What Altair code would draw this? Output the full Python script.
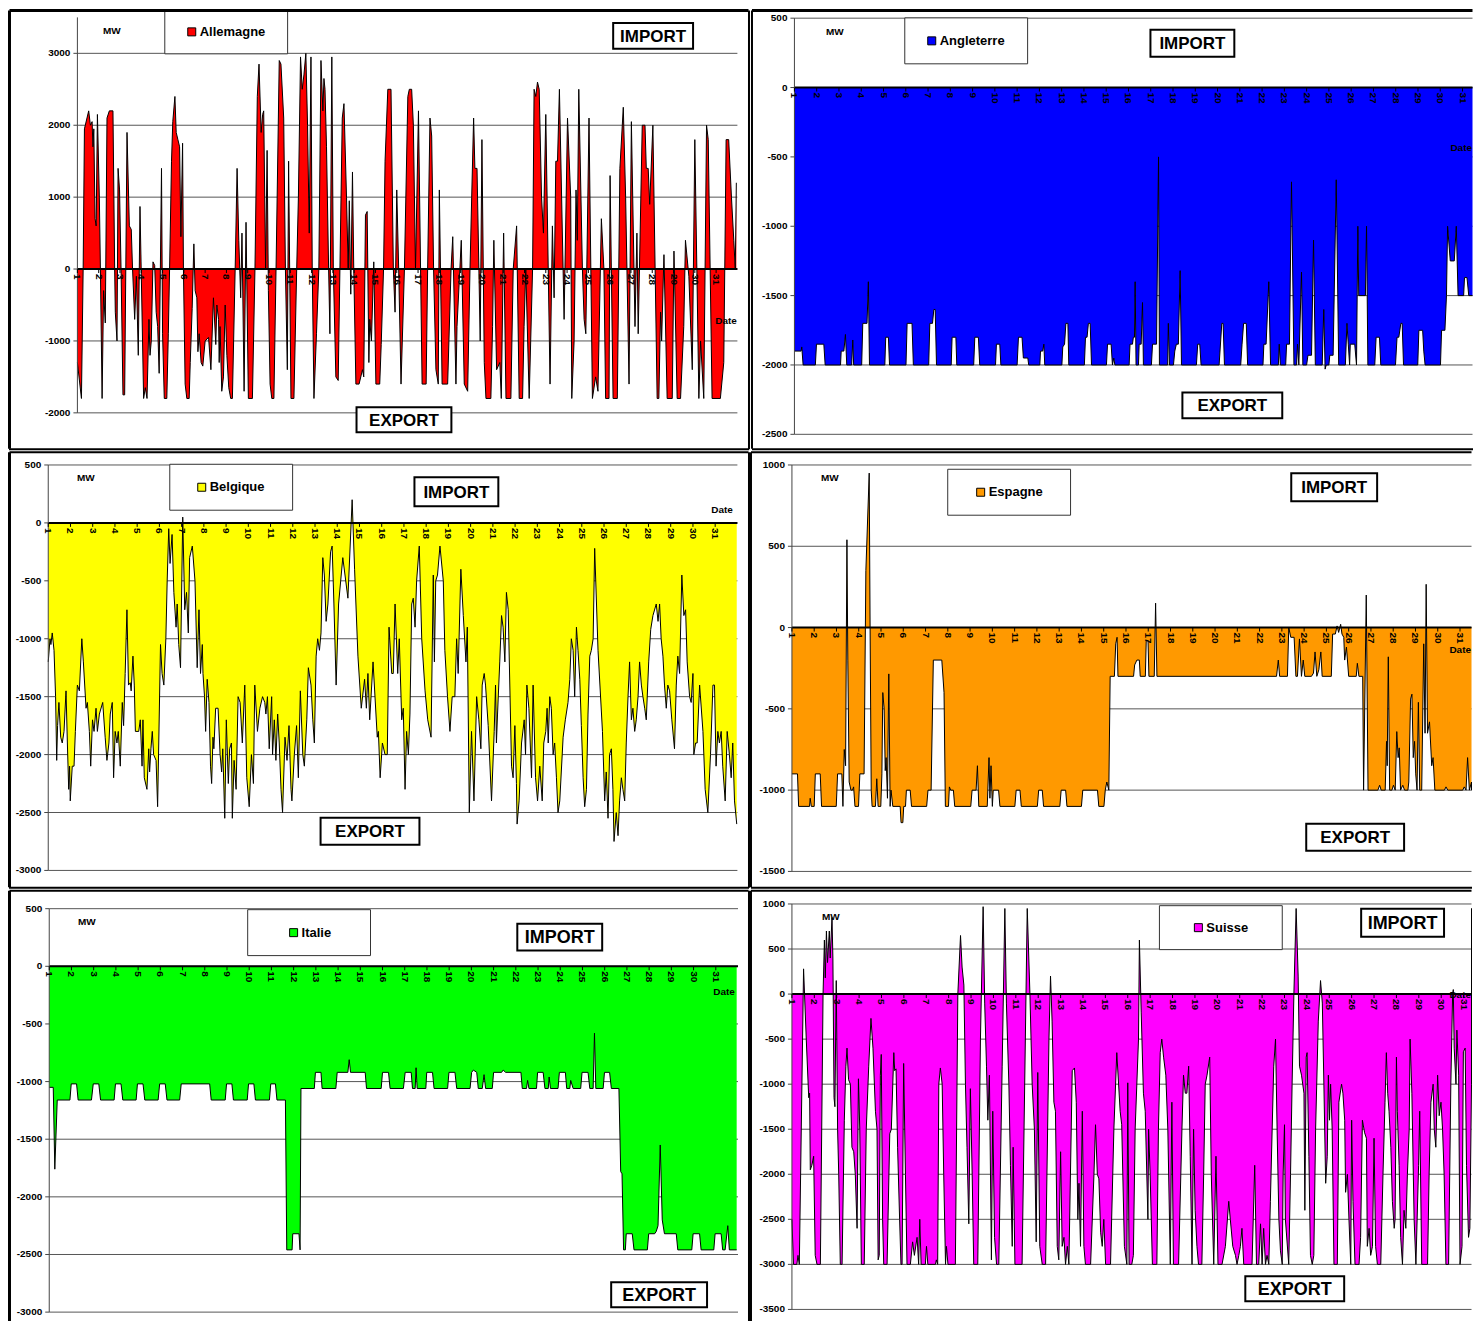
import altair as alt
import pandas as pd

FONT = "Liberation Sans"
DAYS = list(range(1, 32))

# ---------------- data: (day, MW) ----------------
allemagne = [
(1.00,-1300),(1.19,-1800),(1.27,0),(1.33,1950),(1.53,2200),(1.61,2000),(1.69,2050),(1.73,1700),(1.77,1950),(1.83,700),(1.88,600),(1.94,2150),(2.03,1000),(2.08,0),(2.16,-1800),(2.23,-300),(2.31,-750),(2.39,2100),(2.50,2200),(2.67,2200),(2.75,0),(2.78,-600),(2.86,-1000),(2.91,1400),(2.98,1100),(3.05,0),(3.14,-1750),(3.22,-1750),(3.33,1900),(3.44,600),(3.53,550),(3.59,0),(3.69,-700),(3.77,-100),(3.86,-1200),(3.94,870),(4.11,-1800),(4.19,-1650),(4.27,-1800),(4.36,-700),(4.41,-1200),(4.47,-1000),(4.55,100),(4.63,50),(4.70,-600),(4.77,-800),(4.84,-1450),(4.95,1400),(5.00,-900),(5.08,-1800),(5.20,-1800),(5.27,-900),(5.33,0),(5.42,1500),(5.48,2050),(5.58,2400),(5.64,1900),(5.72,1800),(5.80,1700),(5.86,450),(5.94,1750),(5.98,0),(6.06,-1600),(6.14,-1800),(6.25,-1800),(6.30,-1300),(6.39,-550),(6.47,350),(6.53,-300),(6.61,-400),(6.66,-1150),(6.72,-900),(6.81,-1300),(6.89,-1350),(7.00,-1000),(7.16,-950),(7.27,-1400),(7.39,-400),(7.50,-1050),(7.55,-500),(7.63,-700),(7.66,-1300),(7.70,-800),(7.78,-1700),(7.86,-1500),(7.94,-500),(8.02,-1200),(8.11,-1650),(8.20,-1800),(8.28,-1800),(8.41,0),(8.50,1400),(8.58,400),(8.67,-400),(8.73,500),(8.83,-1700),(8.92,650),(9.03,-1800),(9.22,-1800),(9.34,0),(9.45,2400),(9.53,2850),(9.63,1900),(9.70,2150),(9.75,2200),(9.84,0),(9.91,1650),(9.97,-300),(10.05,-1600),(10.13,-1800),(10.23,-1800),(10.33,0),(10.48,2900),(10.56,2850),(10.69,2100),(10.77,0),(10.86,-1400),(10.92,1500),(11.03,-1800),(11.17,-1800),(11.30,0),(11.38,1000),(11.48,2950),(11.56,2500),(11.64,2700),(11.73,3000),(11.81,2000),(11.89,500),(11.97,2950),(12.03,0),(12.11,-1800),(12.23,-900),(12.34,0),(12.44,2900),(12.53,2200),(12.58,2650),(12.63,2500),(12.70,1700),(12.80,0),(12.86,-900),(12.95,2950),(13.02,0),(13.14,-1500),(13.25,-1550),(13.33,0),(13.44,2100),(13.52,2300),(13.64,1000),(13.72,0),(13.77,950),(13.84,-350),(13.92,1350),(13.98,0),(14.08,-1600),(14.23,-1600),(14.39,-1400),(14.45,-1500),(14.53,750),(14.61,800),(14.69,-1300),(14.73,-700),(14.81,-1000),(14.92,100),(15.02,-1600),(15.20,-1600),
(15.27,-1050),(15.38,0),(15.45,1500),(15.58,2500),(15.73,2500),(15.84,0),(15.92,-600),(16.00,1100),(16.09,0),(16.20,-1600),(16.36,0),(16.52,2400),(16.59,2500),(16.70,2500),(16.78,2000),(16.88,0),(17.02,2200),(17.19,-1600),(17.38,-1600),(17.45,0),(17.56,2100),(17.64,1850),(17.73,0),(17.84,-1400),(17.95,-1600),(18.00,1100),(18.13,-1600),(18.39,-1600),(18.55,0),(18.63,450),(18.78,-1600),(18.83,-800),(19.03,400),(19.17,-1600),(19.33,-1700),(19.44,0),(19.52,1000),(19.61,2100),(19.67,1400),(19.77,1400),(19.92,-1000),(20.00,1800),(20.11,-1300),(20.19,-1800),(20.42,-1800),(20.50,-800),(20.56,400),(20.69,-1400),(20.84,-1300),(20.91,-1800),(21.02,500),(21.13,-1800),(21.36,-1800),(21.47,0),(21.63,600),(21.75,-1800),(21.91,-1800),(21.98,-800),(22.06,0),(22.22,-1800),(22.38,0),(22.45,2500),(22.53,2400),(22.61,2600),(22.69,2500),(22.80,1000),(22.89,500),(23.00,2150),(23.20,-1600),(23.31,600),(23.39,-400),(23.47,1500),(23.55,1500),(23.64,2500),(23.86,-700),(24.02,2100),(24.17,1000),(24.22,-1800),(24.33,-1000),(24.42,1100),(24.48,400),(24.55,2500),(24.72,0),(24.80,-700),(24.88,-900),(25.03,2100),(25.19,-1800),(25.34,-1500),(25.45,-1700),(25.61,700),(25.73,0),(25.81,-1800),(25.97,-1800),(26.02,1300),(26.16,-1800),(26.36,-1800),(26.48,1400),(26.64,2250),(26.75,1000),(26.91,-1600),(27.02,2050),(27.19,-800),(27.28,500),(27.34,-900),(27.53,2000),(27.66,2000),(27.72,1400),(27.81,1400),(27.88,900),(28.03,2000),(28.23,-1800),(28.31,-1800),(28.39,-600),(28.44,-1000),(28.55,200),(28.70,-1800),(28.94,-1800),(29.02,250),(29.17,-1800),(29.33,-1800),(29.48,-800),(29.56,400),(29.72,-100),(29.88,-1400),(30.00,1800),(30.19,-1800),(30.27,-1000),(30.42,-1800),(30.55,2000),(30.63,1800),(30.81,-1800),(31.20,-1800),(31.36,-1300),(31.47,1800),(31.59,1800),(31.72,1000),(31.83,400),(31.90,0),(31.95,1200)]

angleterre = [
(1.00,-1900),(1.30,-1900),(1.33,-1870),(1.39,-2000),(1.94,-2000),(1.99,-1850),(2.32,-1850),(2.38,-2000),(3.07,-2000),(3.10,-1900),(3.22,-1900),(3.29,-1780),(3.35,-2000),(3.57,-2000),(3.62,-1820),(3.66,-2000),(4.02,-2000),(4.07,-1700),(4.26,-1700),(4.32,-1400),(4.37,-2000),(5.06,-2000),(5.10,-1800),(5.22,-1800),(5.27,-2000),(6.01,-2000),(6.06,-1700),(6.28,-1700),(6.34,-2000),(7.03,-2000),(7.08,-1700),(7.20,-1700),(7.26,-1600),(7.32,-1600),(7.38,-2000),(8.04,-2000),(8.08,-1800),(8.25,-1800),(8.29,-2000),(9.05,-2000),(9.10,-1800),(9.26,-1800),(9.32,-2000),(10.03,-2000),(10.07,-1850),(10.22,-1850),(10.27,-2000),(11.00,-2000),(11.06,-1800),(11.22,-1800),(11.28,-1950),(11.48,-1950),(11.52,-2000),(12.02,-2000),(12.05,-1900),(12.15,-1900),(12.20,-1850),(12.24,-2000),(13.01,-2000),(13.05,-1870),(13.13,-1850),(13.19,-1700),(13.28,-1700),(13.32,-2000),(14.02,-2000),(14.07,-1800),(14.14,-1800),(14.20,-1700),(14.28,-1700),(14.34,-2000),(15.01,-2000),(15.06,-1850),(15.22,-1850),(15.28,-2000),(15.34,-1950),(15.39,-2000),
(16.03,-2000),(16.07,-1850),(16.18,-1850),(16.22,-1800),(16.27,-1800),(16.30,-1400),(16.34,-2000),(16.45,-2000),(16.48,-1850),(16.57,-1850),(16.63,-1550),(16.67,-2000),(17.03,-2000),(17.08,-1850),(17.26,-1850),(17.35,-500),(17.39,-2000),(17.76,-2000),(17.79,-1700),(17.84,-2000),(18.02,-2000),(18.08,-1900),(18.15,-1850),(18.24,-1850),(18.32,-1320),(18.38,-2000),(19.05,-2000),(19.11,-1850),(19.20,-1850),(19.26,-2000),(20.07,-2000),(20.19,-1700),(20.25,-1700),(20.31,-2000),(21.04,-2000),(21.10,-1850),(21.17,-1700),(21.29,-1700),(21.35,-2000),(22.04,-2000),(22.08,-1850),(22.18,-1850),(22.30,-1400),(22.38,-2000),(22.73,-2000),(22.77,-1850),(22.82,-2000),(23.06,-2000),(23.10,-1850),(23.23,-1850),(23.32,-680),(23.43,-2000),(23.55,-2000),(23.59,-1850),(23.65,-2000),(23.77,-1330),(23.83,-2000),(24.00,-2000),(24.06,-1930),(24.22,-1930),(24.31,-1100),(24.39,-2000),(24.70,-2000),(24.77,-1600),(24.83,-2030),(24.88,-2000),(25.00,-2000),(25.04,-1930),(25.19,-1930),(25.33,-665),(25.44,-2000),(25.74,-2000),(25.81,-1700),(25.87,-1850),(25.93,-2000),(25.96,-1850),(26.16,-1850),(26.24,-2000),(26.30,-1000),(26.34,-1500),(26.64,-1500),(26.69,-1000),(26.75,-2000),(27.06,-2000),(27.12,-1800),(27.27,-1800),(27.33,-2000),(27.99,-2000),(28.06,-1800),(28.14,-1800),(28.23,-1700),(28.29,-1700),(28.35,-2000),(28.99,-2000),(29.04,-1750),(29.21,-1750),(29.26,-1900),(29.32,-2000),(30.01,-2000),(30.06,-1750),(30.21,-1750),(30.28,-1500),(30.33,-1000),(30.45,-1250),(30.63,-1250),(30.72,-1000),(30.80,-1500),(31.05,-1500),(31.09,-1370),(31.20,-1370),(31.28,-1500),(32.00,-1500)]

belgique = [
(1.00,-1200),(1.08,-1000),(1.12,-1050),(1.18,-950),(1.26,-1100),(1.33,-1500),(1.38,-2050),(1.42,-1750),(1.48,-1550),(1.56,-1850),(1.63,-1900),(1.71,-1800),(1.80,-1450),(1.86,-1900),(1.92,-2300),(1.96,-2100),(1.99,-2400),(2.08,-2100),(2.16,-2100),(2.22,-1800),(2.31,-1400),(2.40,-1450),(2.51,-1000),(2.58,-1200),(2.70,-1600),(2.76,-1550),(2.85,-1800),(2.91,-2100),(2.99,-1700),(3.06,-1800),(3.15,-1600),(3.21,-1800),(3.30,-1650),(3.45,-1550),(3.56,-1850),(3.64,-2050),(3.73,-1900),(3.79,-1650),(3.88,-1550),(3.94,-2200),(4.01,-1800),(4.09,-1900),(4.15,-1800),(4.24,-2100),(4.33,-1550),(4.39,-1750),(4.46,-1300),(4.54,-750),(4.61,-1400),(4.69,-1380),(4.73,-1450),(4.81,-1150),(4.87,-1400),(4.92,-1800),(5.07,-1800),(5.14,-1700),(5.22,-2100),(5.26,-1700),(5.32,-2200),(5.44,-2300),(5.52,-1950),(5.56,-2150),(5.62,-1950),(5.68,-1800),(5.74,-2000),(5.85,-2050),(5.92,-2450),(6.05,-1050),(6.12,-1300),(6.20,-1400),(6.29,-1000),(6.35,-500),(6.42,-50),(6.48,-350),(6.57,-100),(6.65,-600),(6.75,-900),(6.80,-700),(6.87,-1050),(6.95,-1250),(7.05,50),(7.14,-750),(7.22,-600),(7.30,-950),(7.36,-300),(7.48,-200),(7.60,-500),(7.70,-1250),(7.78,-750),(7.85,-1300),(7.93,-1050),(7.96,-1300),(8.03,-1500),(8.08,-1800),(8.15,-1350),(8.23,-1550),(8.30,-2100),(8.35,-2250),(8.41,-1850),(8.45,-1950),(8.53,-1600),(8.64,-1600),(8.73,-2000),(8.80,-2150),(8.85,-1950),(8.94,-2550),(9.01,-1700),(9.10,-2250),(9.16,-1950),(9.24,-1900),(9.28,-2550),(9.36,-2050),(9.45,-2300),(9.54,-1500),(9.63,-1550),(9.73,-1900),(9.84,-1400),(9.93,-2200),(10.04,-2450),(10.14,-2000),(10.23,-2250),(10.29,-1400),(10.41,-1800),(10.52,-1600),(10.64,-1500),(10.74,-1550),(10.79,-1650),(10.86,-1500),(10.94,-1950),(11.05,-1500),(11.09,-2000),(11.17,-1700),(11.24,-2050),(11.32,-1650),(11.39,-1900),(11.47,-2300),(11.54,-2500),(11.65,-1850),(11.74,-2050),(11.83,-1750),(11.92,-2300),(11.96,-2400),(12.07,-2000),(12.17,-1750),(12.25,-2200),(12.34,-1450),(12.45,-2000),(12.52,-2100),(12.63,-1700),(12.70,-1250),(12.82,-1400),(12.90,-1700),(12.97,-1900),(13.05,-1150),(13.12,-1000),(13.20,-1100),(13.27,-950),(13.35,-300),(13.42,-450),(13.50,-850),(13.58,-700),(13.70,-250),(13.77,-200),(13.85,-700),(13.95,-1400),(14.06,-700),(14.25,-300),(14.48,-650),(14.67,200),(14.78,-400),(14.93,-1150),(15.08,-1600),(15.23,-1350),(15.31,-1600),(15.38,-1300),(15.46,-1700),(15.61,-1200),(15.80,-1850),
(15.85,-1800),(15.93,-2200),(16.03,-1900),(16.15,-2000),(16.25,-2000),(16.33,-900),(16.45,-1300),(16.52,-1300),(16.60,-700),(16.72,-1300),(16.79,-1000),(16.90,-1700),(16.97,-1600),(17.05,-2300),(17.12,-1800),(17.20,-2000),(17.27,-1650),(17.35,-700),(17.42,-650),(17.50,-900),(17.57,-500),(17.69,-200),(17.80,-1000),(17.95,-1450),(18.07,-1700),(18.22,-1850),(18.32,-450),(18.37,-1200),(18.43,-500),(18.51,-450),(18.62,-200),(18.77,-500),(18.84,-1100),(18.96,-1500),(19.07,-1800),(19.17,-1500),(19.29,-1500),(19.37,-1000),(19.44,-1300),(19.52,-700),(19.56,-400),(19.67,-800),(19.79,-1200),(19.85,-900),(19.94,-2500),(20.04,-1800),(20.15,-2400),(20.27,-1500),(20.37,-1700),(20.46,-1950),(20.52,-1400),(20.61,-1300),(20.67,-1400),(20.79,-1750),(20.94,-2400),(21.06,-1800),(21.12,-1400),(21.16,-1900),(21.21,-1650),(21.31,-1200),(21.39,-800),(21.46,-900),(21.54,-1200),(21.61,-600),(21.69,-750),(21.84,-2100),(21.91,-2200),(21.99,-1750),(22.06,-2250),(22.09,-2600),(22.18,-2400),(22.29,-1900),(22.41,-1700),(22.47,-2000),(22.53,-1400),(22.62,-1600),(22.68,-1900),(22.74,-2200),(22.81,-1400),(22.92,-2200),(23.01,-2400),(23.11,-2100),(23.22,-2400),(23.29,-1900),(23.38,-1800),(23.44,-1600),(23.49,-1900),(23.56,-1500),(23.63,-1600),(23.71,-2000),(23.78,-1900),(23.86,-2200),(23.93,-2500),(24.01,-2400),(24.16,-1850),(24.26,-1700),(24.38,-1550),(24.46,-1350),(24.53,-1000),(24.61,-1100),(24.68,-1500),(24.76,-900),(24.83,-1100),(24.91,-1350),(24.98,-1750),(25.06,-2200),(25.13,-2450),(25.21,-2300),(25.28,-1650),(25.36,-1150),(25.43,-1100),(25.51,-1000),(25.58,-220),(25.73,-1100),(25.93,-1800),(26.03,-2400),(26.10,-2150),(26.18,-2550),(26.25,-2000),(26.33,-1950),(26.40,-2300),(26.45,-2750),(26.55,-2500),(26.63,-2700),(26.70,-2400),(26.78,-2200),(26.85,-2300),(26.93,-2400),(27.00,-1900),(27.08,-1500),(27.15,-1200),(27.23,-1700),(27.30,-1600),(27.38,-1800),(27.45,-1700),(27.53,-1500),(27.60,-1200),(27.68,-1400),(27.75,-1500),(27.83,-1600),(27.90,-1700),(28.01,-1200),(28.10,-920),(28.20,-800),(28.35,-700),(28.43,-850),(28.50,-700),(28.57,-1000),(28.65,-1150),(28.72,-1400),(28.80,-1600),(28.87,-1400),(28.95,-1450),(29.05,-1700),(29.17,-1950),(29.25,-1400),(29.32,-1150),(29.40,-1300),(29.50,-450),(29.59,-800),(29.67,-750),(29.74,-1200),(29.85,-1500),(29.92,-1550),(30.00,-1300),(30.04,-2000),(30.12,-1900),(30.19,-1900),(30.30,-1400),(30.45,-1800),(30.55,-2300),(30.67,-2500),(30.79,-2000),(30.90,-1400),(30.97,-1400),(31.04,-2100),(31.12,-1800),(31.19,-1900),(31.27,-1800),(31.34,-2100),(31.45,-2400),(31.54,-1800),(31.64,-2000),(31.72,-2200),(31.79,-1900),(31.87,-2400),(31.97,-2600)]

espagne = [
(1.00,-900),(1.25,-900),(1.30,-1100),(1.79,-1100),(1.82,-1050),(1.87,-1100),(2.00,-1100),(2.05,-900),(2.27,-900),(2.33,-1100),(2.99,-1100),(3.05,-900),(3.24,-900),(3.29,-1100),(3.35,-750),(3.41,-850),(3.47,540),(3.51,-200),(3.57,-950),(3.65,-1000),(3.72,-1000),(3.77,-980),(3.83,-1100),(3.99,-1100),(4.05,-900),(4.24,-900),(4.32,350),(4.47,950),(4.51,0),(4.56,-1000),(4.60,-1100),(4.75,-1100),(4.81,-930),(4.87,-1100),(4.99,-1100),(5.04,-900),(5.08,-400),(5.14,-500),(5.19,-880),(5.23,-800),(5.29,-1050),(5.35,-285),(5.41,-1100),(5.45,-1000),(5.53,-1100),(5.86,-1100),(5.90,-1200),(5.98,-1200),(6.02,-1100),(6.10,-1100),(6.14,-1000),(6.31,-1000),(6.37,-1100),(7.05,-1100),(7.11,-1000),(7.25,-1000),(7.35,-200),(7.73,-200),(7.83,-400),(7.89,-1100),(8.03,-1100),(8.07,-980),(8.13,-1000),(8.25,-1000),(8.31,-1100),(9.03,-1100),(9.09,-1000),(9.27,-1000),(9.33,-850),(9.39,-1100),(9.77,-1100),(9.85,-800),(9.89,-1050),(9.94,-850),(10.00,-1100),(10.04,-1000),(10.28,-1000),(10.34,-1100),(11.01,-1100),(11.07,-1000),(11.24,-1000),(11.30,-1100),(12.02,-1100),(12.08,-1000),(12.24,-1000),(12.30,-1100),(13.03,-1100),(13.09,-1000),(13.29,-1000),(13.35,-1100),(14.00,-1100),(14.06,-1000),(14.72,-1000),(14.78,-1100),(15.01,-1100),(15.07,-1000),(15.14,-950),(15.23,-1000),(15.29,-300),(15.48,-300),(15.54,-100),(15.60,-60),(15.64,-300),(16.34,-300),(16.39,-230),(16.49,-200),(16.60,-200),(16.64,-300),(16.87,-300),(16.91,-80),(16.99,-80),(17.03,-300),(17.27,-300),(17.33,150),(17.39,-300),(22.76,-300),(22.84,-200),(22.90,-300),(23.25,-300),(23.31,0),(23.40,-60),(23.55,-60),(23.63,-300),(23.70,-300),(23.79,-70),(23.88,-300),(23.96,-200),(24.03,-300),(24.33,-300),(24.42,-280),(24.49,-150),(24.57,-300),(24.66,-260),(24.75,-150),(24.81,-300),(25.22,-300),(25.28,-40),(25.40,-40),(25.48,10),(25.55,-30),(25.64,20),(25.70,-40),(25.78,-60),(25.82,-200),(25.90,-120),(26.00,-300),(26.34,-300),(26.39,-220),(26.46,-300),(26.63,-300),(26.67,-1000),(26.79,200),(26.87,-1000),(27.31,-1000),(27.39,-970),(27.46,-1000),(27.64,-1000),(27.70,-700),(27.73,-850),(27.78,-180),(27.84,-1000),(27.94,-1000),(28.01,-970),(28.09,-1000),(28.16,-640),(28.22,-800),(28.27,-740),(28.33,-1000),(28.43,-970),(28.51,-1000),(28.66,-1000),(28.70,-950),(28.78,-440),(28.84,-410),(28.90,-800),(28.96,-700),(29.01,-900),(29.07,-1000),(29.13,-460),(29.19,-1000),(29.28,-1000),(29.37,-100),(29.43,-650),(29.48,266),(29.54,-650),(29.63,-580),(29.73,-850),(29.79,-800),(29.87,-1000),(30.30,-1000),(30.37,-980),(30.45,-1000),(31.12,-1000),(31.19,-980),(31.27,-1000),(31.34,-800),(31.42,-1000),(31.57,-950),(31.64,-1000),(31.79,-950),(31.87,-1000),(31.94,-1000)]

italie = [
(1.00,-1050),(1.18,-1050),(1.25,-1760),(1.36,-1160),(1.93,-1160),(1.99,-1020),(2.23,-1020),(2.30,-1160),(2.90,-1160),(2.98,-1020),(3.23,-1020),(3.31,-1160),(3.92,-1160),(3.98,-1020),(4.23,-1020),(4.31,-1160),(4.91,-1160),(4.97,-1020),(5.22,-1020),(5.30,-1160),(5.90,-1160),(5.97,-1020),(6.22,-1020),(6.30,-1160),(6.87,-1160),(6.94,-1020),(8.22,-1020),(8.29,-1160),(8.92,-1160),(8.98,-1020),(9.22,-1020),(9.29,-1160),(9.91,-1160),(9.97,-1020),(10.21,-1020),(10.28,-1160),(10.91,-1160),(10.97,-1020),(11.18,-1020),(11.25,-1160),(11.63,-1160),(11.69,-2460),(11.93,-2460),(11.96,-2320),(12.24,-2320),(12.29,-2460),(12.33,-1060),(12.93,-1060),(12.98,-920),(13.23,-920),(13.28,-1060),(13.90,-1060),(13.96,-920),(14.44,-920),(14.50,-810),(14.56,-920),(15.22,-920),(15.28,-1060),(15.94,-1060),(16.00,-920),(16.27,-920),(16.34,-1060),(16.94,-1060),(17.02,-920),(17.29,-920),(17.35,-1060),(17.47,-1060),(17.51,-880),(17.56,-1060),(17.95,-1060),(17.99,-920),(18.25,-920),(18.32,-1060),(18.93,-1060),(18.99,-920),(19.26,-920),(19.34,-1060),(19.94,-1060),(20.01,-920),(20.09,-900),(20.24,-920),(20.31,-1060),(20.49,-1060),(20.57,-940),(20.64,-1060),(20.94,-1060),(21.00,-920),(21.36,-920),(21.43,-900),(21.54,-920),(22.23,-920),(22.29,-1060),(22.48,-1060),(22.53,-990),(22.59,-1060),(22.93,-1060),(22.98,-920),(23.23,-920),(23.31,-1060),(23.46,-1060),(23.50,-960),(23.56,-1060),(23.90,-1060),(23.96,-920),(24.23,-920),(24.29,-1060),(24.43,-1060),(24.47,-990),(24.58,-1060),(24.92,-1060),(24.98,-920),(25.25,-920),(25.33,-1060),(25.48,-1060),(25.54,-580),(25.60,-1060),(25.93,-1060),(25.99,-920),(26.22,-920),(26.30,-1060),(26.64,-1060),(26.72,-1780),(26.78,-1800),(26.85,-2460),(26.93,-2460),(26.97,-2320),(27.24,-2320),(27.32,-2460),(27.92,-2460),(27.98,-2320),(28.25,-2320),(28.32,-2300),(28.40,-2250),(28.50,-1550),(28.59,-2200),(28.69,-2320),(29.22,-2320),(29.29,-2460),(29.92,-2460),(29.98,-2320),(30.27,-2320),(30.34,-2460),(30.91,-2460),(30.97,-2320),(31.24,-2320),(31.31,-2460),(31.42,-2460),(31.54,-2250),(31.61,-2460),(31.94,-2460)]

suisse = [
(1.00,-2500),(1.07,-3000),(1.22,-3000),(1.27,-2900),(1.33,-3000),(1.52,280),(1.64,-500),(1.75,-1150),(1.79,-1100),(1.82,-1950),(1.89,-1900),(1.97,-1800),(2.04,-2900),(2.12,-3000),(2.27,-3000),(2.39,0),(2.45,600),(2.49,180),(2.54,700),(2.59,350),(2.67,700),(2.71,400),(2.79,850),(2.83,400),(2.88,-1150),(2.92,-1250),(2.98,150),(3.04,-1500),(3.09,-2000),(3.16,-3000),(3.24,-3000),(3.34,-1400),(3.41,-800),(3.46,-600),(3.53,-950),(3.61,-1000),(3.68,-1700),(3.76,-1750),(3.83,-2000),(3.91,-2600),(3.97,-940),(4.03,-1500),(4.10,-3000),(4.23,-3000),(4.32,-1500),(4.43,-800),(4.53,-270),(4.62,-600),(4.73,-1300),(4.80,-1500),(4.85,-2950),(4.90,-2900),(4.95,-900),(4.99,-670),(5.05,-2500),(5.10,-3000),(5.25,-3000),(5.37,-1550),(5.44,-1500),(5.55,-650),(5.59,-850),(5.65,-830),(5.72,-1700),(5.81,-2500),(5.87,-3000),(5.92,-3000),(5.99,-770),(6.07,-2000),(6.14,-3000),(6.29,-3000),(6.39,-2750),(6.47,-2900),(6.59,-2700),(6.66,-3000),(6.71,-2500),(6.77,-3000),(6.96,-3000),(7.01,-2800),(7.07,-3000),(7.41,-3000),(7.45,-2950),(7.51,-3000),(7.56,-1000),(7.63,-820),(7.71,-1000),(7.78,-2000),(7.86,-3000),(7.90,-2800),(7.97,-3000),(8.30,-3000),(8.41,0),(8.53,650),(8.60,300),(8.68,100),(8.75,-1000),(8.82,-1700),(8.90,-2550),(8.97,-1050),(9.05,-2000),(9.12,-3000),(9.30,-3000),(9.42,-500),(9.54,970),(9.61,-100),(9.69,-800),(9.75,-1400),(9.82,-900),(9.91,-2950),(9.97,-1300),(10.05,-2700),(10.14,-3000),(10.24,-3000),(10.39,-800),(10.51,950),(10.58,-100),(10.69,-1000),(10.76,-1900),(10.84,-2800),(10.88,-1700),(10.96,-3000),(11.28,-3000),(11.51,950),(11.63,0),(11.73,-1000),(11.83,-1500),(11.91,-2750),(11.98,-870),(12.07,-2800),(12.18,-3000),(12.33,-3000),(12.48,-500),(12.55,200),(12.62,-300),(12.70,-1200),(12.77,-1300),(12.85,-2800),(12.92,-2950),(13.00,-1750),(13.07,-2800),(13.15,-2700),(13.22,-3000),(13.30,-2800),(13.37,-3000),(13.52,-850),(13.62,-820),(13.70,-1200),(13.77,-2500),(13.82,-2100),(13.89,-2800),(13.97,-1300),(14.04,-2800),(14.11,-3000),(14.34,-3000),(14.49,-2000),(14.56,-1450),(14.64,-2000),(14.71,-2050),(14.79,-2650),(14.86,-2800),(14.93,-2500),(15.01,-3000),(15.23,-3000),(15.38,-1500),(15.51,-650),(15.66,-1300),(15.73,-1450),(15.85,-2800),(15.96,-3000),(16.00,-985),(16.06,-3000),(16.18,-3000),(16.25,-2900),(16.33,-1500),(16.48,-500),(16.52,600),(16.60,-200),(16.70,-1100),(16.78,-1300),(16.90,-2500),(16.93,-1500),(17.00,-2000),(17.10,-3000),(17.30,-3000),(17.37,-1500),(17.45,-650),(17.52,-500),(17.60,-700),(17.70,-900),(17.79,-1500),(17.90,-3000),(17.97,-1200),(18.04,-3000),(18.27,-3000),(18.42,-1500),(18.49,-900),(18.57,-1100),(18.64,-1100),(18.72,-800),(18.79,-1800),(18.87,-3000),(18.94,-1500),(19.01,-2400),(19.09,-2800),(19.16,-3000),(19.31,-3000),(19.39,-2000),(19.46,-1000),(19.54,-900),(19.66,-700),(19.73,-2000),(19.84,-3000),(19.94,-1800),(20.03,-3000),(20.21,-3000),(20.36,-2800),(20.51,-2300),(20.58,-2500),(20.69,-2800),(20.81,-2900),(20.88,-3000),(20.96,-2900),(21.03,-2800),(21.10,-2600),(21.18,-3000),(21.55,-3000),(21.67,-1900),(21.75,-3000),(21.85,-3000),(21.93,-2550),(22.00,-3000),(22.07,-2600),(22.15,-3000),(22.22,-2900),(22.30,-3000),(22.37,-2300),(22.45,-1500),(22.52,-800),(22.60,-500),(22.67,-1500),(22.75,-2500),(22.82,-2850),(22.90,-3000),(22.94,-2000),(23.00,-1450),(23.04,-2500),(23.19,-3000),(23.27,-2000),(23.34,-1000),(23.42,0),(23.52,950),(23.61,200),(23.67,-800),(23.76,-900),(23.87,-1100),(23.91,-2400),(23.97,-700),(24.01,-650),(24.09,-1800),(24.16,-2900),(24.24,-3000),(24.31,-2900),(24.39,-1500),(24.51,-300),(24.61,150),(24.69,-100),(24.76,-1000),(24.84,-2100),(24.91,-1800),(24.96,-900),(25.01,-1400),(25.06,-1000),(25.13,-1500),(25.21,-3000),(25.36,-3000),(25.43,-1200),(25.55,-1000),(25.61,-1100),(25.69,-1400),(25.73,-2200),(25.81,-2000),(25.88,-2500),(25.96,-3000),(26.00,-1400),(26.06,-2300),(26.15,-3000),(26.33,-3000),(26.40,-2700),(26.48,-1400),(26.58,-1540),(26.66,-1600),(26.70,-2800),(26.78,-2600),(26.85,-2900),(26.93,-2800),(27.00,-1600),(27.07,-2800),(27.15,-3000),(27.30,-3000),(27.40,-2000),(27.49,-1200),(27.55,-650),(27.61,-1100),(27.67,-1300),(27.75,-1700),(27.82,-2300),(27.90,-2600),(27.94,-2500),(28.00,-700),(28.04,-1300),(28.12,-1900),(28.19,-2700),(28.27,-3000),(28.34,-2400),(28.42,-2600),(28.49,-2000),(28.57,-1500),(28.61,-500),(28.69,-1100),(28.79,-2500),(28.87,-3000),(28.99,-1900),(29.04,-1300),(29.13,-3000),(29.39,-3000),(29.46,-2000),(29.54,-1200),(29.64,-1000),(29.69,-1500),(29.76,-1700),(29.84,-900),(29.91,-1350),(29.99,-1200),(30.06,-1500),(30.13,-2000),(30.21,-3000),(30.33,-3000),(30.43,-1000),(30.51,0),(30.54,50),(30.58,-600),(30.66,-1000),(30.70,-400),(30.78,-900),(30.84,-3000),(30.93,-2800),(30.99,-640),(31.07,-600),(31.13,-1900),(31.22,-2700),(31.28,-2600),(31.37,-1000),(31.45,600),(31.52,950),(31.60,500),(31.66,400),(31.70,200),(31.75,-100)]

ticks_allemagne = [-2000, -1000, 0, 1000, 2000, 3000]
ticks_angleterre = [-2500, -2000, -1500, -1000, -500, 0, 500]
ticks_belgique = [-3000, -2500, -2000, -1500, -1000, -500, 0, 500]
ticks_espagne = [-1500, -1000, -500, 0, 500, 1000]
ticks_italie = [-3000, -2500, -2000, -1500, -1000, -500, 0, 500]
ticks_suisse = [-3500, -3000, -2500, -2000, -1500, -1000, -500, 0, 500, 1000]

# ---------------- layout (page pixel positions) ----------------
LW, RW = 743, 724          # column widths (total 1467 = window minus body margins)
TOP = 8                    # page y of the first row (body margin)
PANELS = [
    dict(name="Allemagne", color="#FF0000", data=allemagne, ticks=ticks_allemagne,
         x0=8, y0=TOP, w=LW, h=450 - TOP, L=77.5, R=738.4, ymin=-2000, ymax=3500, yB=412.5, yT=16.5,
         mw=(112, 30), leg=(165, 9, 288, 53), sw=188, imp=(614, 22, 694, 48), exp=(357, 407, 452, 432),
         date=(727, 321, "center"), fs=17, right=True, bottom=True),
    dict(name="Angleterre", color="#0000FF", data=angleterre, ticks=ticks_angleterre,
         x0=751, y0=TOP, w=RW, h=450 - TOP, L=794.5, R=1485.8, ymin=-2500, ymax=500, yB=434, yT=17.3,
         mw=(835, 31), leg=(905, 17, 1028, 63), sw=928, imp=(1151, 29, 1235, 56), exp=(1183, 392, 1283, 418),
         date=(1473, 147, "right"), fs=17, right=False, bottom=True),
    dict(name="Belgique", color="#FFFF00", data=belgique, ticks=ticks_belgique,
         x0=8, y0=450, w=LW, h=438, L=48.3, R=738.4, ymin=-3000, ymax=500, yB=869.7, yT=463.7,
         mw=(86, 477), leg=(170, 463, 293, 509), sw=198, imp=(415, 476, 499, 505), exp=(321, 817, 420, 844),
         date=(723, 509, "center"), fs=17, right=True, bottom=True),
    dict(name="Espagne", color="#FF9900", data=espagne, ticks=ticks_espagne,
         x0=751, y0=450, w=RW, h=438, L=793, R=1484.3, ymin=-1500, ymax=1000, yB=870.7, yT=463.7,
         mw=(831, 477), leg=(949, 468, 1072, 514), sw=978, imp=(1293, 472, 1379, 500), exp=(1308, 823, 1406, 850),
         date=(1473, 649, "right"), fs=17, right=False, bottom=True),
    dict(name="Italie", color="#00FF00", data=italie, ticks=ticks_italie,
         x0=8, y0=888, w=LW, h=440, L=49.3, R=739.0, ymin=-3000, ymax=500, yB=1311, yT=907,
         mw=(87, 920), leg=(248, 908, 371, 954), sw=290, imp=(518, 922, 603, 949), exp=(612, 1281, 708, 1306),
         date=(725, 990, "center"), fs=18, right=True, bottom=False),
    dict(name="Suisse", color="#FF00FF", data=suisse, ticks=ticks_suisse,
         x0=751, y0=888, w=RW, h=440, L=793, R=1488, ymin=-3500, ymax=1000, yB=1308.3, yT=902.3,
         mw=(832, 915), leg=(1161, 904, 1284, 948), sw=1196, imp=(1363, 907, 1446, 935), exp=(1247, 1275, 1346, 1300),
         date=(1473, 993, "right"), fs=18, right=False, bottom=False),
]


def one_row():
    return pd.DataFrame({"k": [0]})


def panel(p):
    x0, y0 = p["x0"], p["y0"]
    w, h = p["w"], p["h"]
    L = p["L"] - x0
    Rfull = p["R"] - x0
    edge = w - 1.5
    yB = p["yB"] - y0
    yT = p["yT"] - y0
    if Rfull > edge:
        # panel cut by the window edge: keep px/day, stop the range at the visible edge
        tmax = 1 + (edge - L) / (Rfull - L) * 31
        xs = alt.Scale(domain=[1, tmax], range=[L, edge], nice=False, zero=False, clamp=True)
        R = edge
    else:
        xs = alt.Scale(domain=[1, 32], range=[L, Rfull], nice=False, zero=False)
        R = Rfull
    ys = alt.Scale(domain=[p["ymin"], p["ymax"]], range=[yB, yT], nice=False, zero=False)
    zero = yB + (0 - p["ymin"]) / (p["ymax"] - p["ymin"]) * (yT - yB)

    # page pixel -> data space (decorative boxes drawn through the panel scales)
    def tx(px):
        return 1 + (px - p["L"]) / (p["R"] - p["L"]) * 31

    def vy(py):
        return p["ymin"] + (p["yB"] - py) / (p["yB"] - p["yT"]) * (p["ymax"] - p["ymin"])

    def X(f):
        return alt.X(f, type="quantitative", scale=xs, axis=None)

    def Y(f):
        return alt.Y(f, type="quantitative", scale=ys, axis=None)

    def box(a, c, b, d, fill, stroke, sw):
        df = pd.DataFrame({"xa": [tx(a)], "xb": [tx(b)], "ya": [vy(d)], "yb": [vy(c)]})
        return alt.Chart(df).mark_rect(fill=fill, stroke=stroke, strokeWidth=sw).encode(
            x=X("xa"), x2=alt.X2("xb:Q"), y=Y("ya"), y2=alt.Y2("yb:Q"))

    def label(text, px, py, fs, align="center"):
        return alt.Chart(one_row()).mark_text(text=text, font=FONT, fontSize=fs, fontWeight="bold",
                                              align=align, baseline="middle", color="black").encode(
            x=alt.value(px - x0), y=alt.value(py - y0))

    def hline(yv, xa, xb, sw):
        return alt.Chart(one_row()).mark_rule(color="black", strokeWidth=sw).encode(
            x=alt.value(xa), x2=alt.value(xb), y=alt.value(yv))

    def vline(xv, ya, yb, sw):
        return alt.Chart(one_row()).mark_rule(color="black", strokeWidth=sw).encode(
            x=alt.value(xv), y=alt.value(ya), y2=alt.value(yb))

    series = pd.DataFrame(p["data"], columns=["jour", "mw"])
    ticks = pd.DataFrame({"v": p["ticks"], "lab": [str(t) for t in p["ticks"]]})
    days = pd.DataFrame({"d": DAYS, "lab": [str(d) for d in DAYS]})
    zdf = pd.DataFrame({"z": [0]})

    layers = [
        alt.Chart(ticks).mark_rule(color="#555555", strokeWidth=1).encode(
            y=Y("v"), x=alt.value(L), x2=alt.value(R)),
        alt.Chart(series).mark_area(color=p["color"], interpolate="linear", opacity=1).encode(
            x=X("jour"), y=Y("mw"), y2=alt.datum(0)),
        alt.Chart(series).mark_line(color="black", strokeWidth=1, interpolate="linear").encode(
            x=X("jour"), y=Y("mw")),
        alt.Chart(zdf).mark_rule(color="black", strokeWidth=2).encode(
            y=Y("z"), x=alt.value(L), x2=alt.value(R)),
        alt.Chart(one_row()).mark_rule(color="#444444", strokeWidth=1).encode(
            x=alt.value(L), y=alt.value(yT), y2=alt.value(yB)),
        alt.Chart(ticks).mark_rule(color="#444444", strokeWidth=1).encode(
            y=Y("v"), x=alt.value(L - 4), x2=alt.value(L)),
        alt.Chart(ticks).mark_text(align="right", baseline="middle", font=FONT, fontSize=10,
                                   fontWeight="bold", color="black").encode(
            y=Y("v"), x=alt.value(L - 7), text="lab:N"),
        alt.Chart(days).mark_rule(color="black", strokeWidth=1).encode(
            x=X("d"), y=alt.value(zero), y2=alt.value(zero + 4)),
        alt.Chart(days).mark_text(angle=90, align="left", baseline="middle", font=FONT, fontSize=10,
                                  fontWeight="bold", color="black").encode(
            x=X("d"), y=alt.value(zero + 5), text="lab:N"),
        label("MW", p["mw"][0], p["mw"][1], 10),
        label("Date", p["date"][0], p["date"][1], 10, align=p["date"][2]),
    ]
    a, c, b, d = p["leg"]
    cy = (c + d) / 2
    layers += [
        box(a, c, b, d, "white", "#333333", 1),
        box(p["sw"], cy - 4, p["sw"] + 8, cy + 4, p["color"], "black", 1),
        label(p["name"], p["sw"] + 12, cy, 13, align="left"),
    ]
    for word, bx in (("IMPORT", p["imp"]), ("EXPORT", p["exp"])):
        a, c, b, d = bx
        layers += [box(a, c, b, d, "white", "black", 2),
                   label(word, (a + b) / 2, (c + d) / 2 + 1, p["fs"])]
    # panel frame (thick black chart-area border), kept inside the panel bounds
    if p["y0"] == TOP:
        top_y, top_w = 1.5, 3
    else:
        top_y, top_w = 1, 2
    left_w = 3 if p["x0"] == 8 else 2
    layers += [hline(top_y, left_w / 2, w - 1.5, top_w),
               vline(left_w / 2, top_y, h - 1.5, left_w)]
    if p["right"]:
        layers.append(vline(w - 1, top_y, h - 1, 2))
    if p["bottom"]:
        layers.append(hline(h - 1, 1, w - 1, 2))
    return alt.layer(*layers).properties(width=w, height=h)


charts = [panel(p) for p in PANELS]
rows = [alt.hconcat(charts[i], charts[i + 1], spacing=0) for i in (0, 2, 4)]
chart = alt.vconcat(*rows, spacing=0).properties(padding=0, background="white")
chart = chart.configure(font=FONT).configure_view(stroke="transparent", strokeWidth=0)

chart.save("out.html", embed_options={"renderer": "svg", "actions": False})
